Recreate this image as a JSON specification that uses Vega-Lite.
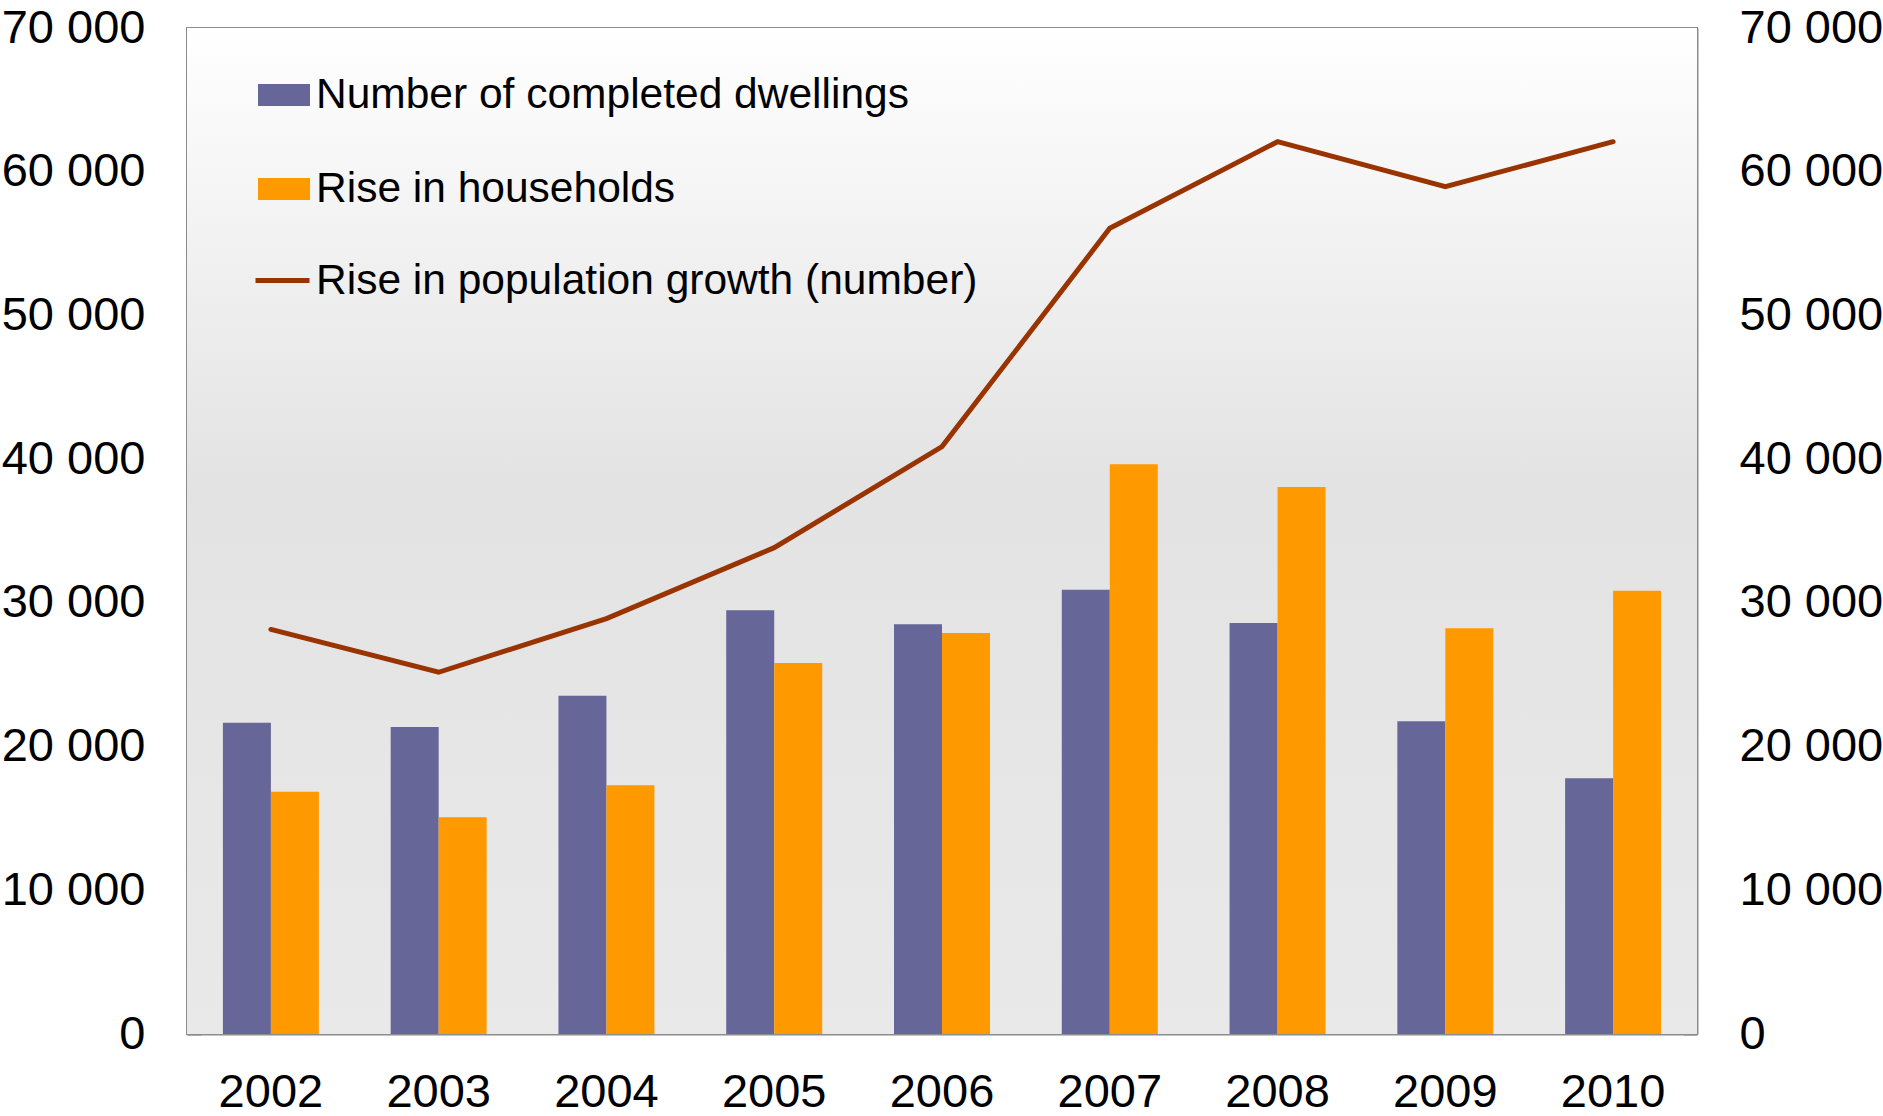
{
  "$schema": "https://vega.github.io/schema/vega-lite/v6.json",
  "width": 1510,
  "height": 1006,
  "autosize": {"type": "none"},
  "padding": {"left": 187, "top": 28, "right": 186, "bottom": 82},
  "background": "white",
  "config": {
    "font": "Liberation Sans",
    "view": {"stroke": "#8c8c8c", "strokeWidth": 2}
  },
  "datasets": {
    "bars": [
      {"year": "2002", "series": "Number of completed dwellings", "value": 21660},
      {"year": "2002", "series": "Rise in households", "value": 16860},
      {"year": "2003", "series": "Number of completed dwellings", "value": 21360},
      {"year": "2003", "series": "Rise in households", "value": 15080},
      {"year": "2004", "series": "Number of completed dwellings", "value": 23540},
      {"year": "2004", "series": "Rise in households", "value": 17300},
      {"year": "2005", "series": "Number of completed dwellings", "value": 29480},
      {"year": "2005", "series": "Rise in households", "value": 25815},
      {"year": "2006", "series": "Number of completed dwellings", "value": 28510},
      {"year": "2006", "series": "Rise in households", "value": 27900},
      {"year": "2007", "series": "Number of completed dwellings", "value": 30920},
      {"year": "2007", "series": "Rise in households", "value": 39640},
      {"year": "2008", "series": "Number of completed dwellings", "value": 28600},
      {"year": "2008", "series": "Rise in households", "value": 38060},
      {"year": "2009", "series": "Number of completed dwellings", "value": 21760},
      {"year": "2009", "series": "Rise in households", "value": 28230},
      {"year": "2010", "series": "Number of completed dwellings", "value": 17790},
      {"year": "2010", "series": "Rise in households", "value": 30850}
    ],
    "pop": [
      {"year": "2002", "series": "Rise in population growth (number)", "value": 28150},
      {"year": "2003", "series": "Rise in population growth (number)", "value": 25170},
      {"year": "2004", "series": "Rise in population growth (number)", "value": 28900},
      {"year": "2005", "series": "Rise in population growth (number)", "value": 33840},
      {"year": "2006", "series": "Rise in population growth (number)", "value": 40870},
      {"year": "2007", "series": "Rise in population growth (number)", "value": 56060},
      {"year": "2008", "series": "Rise in population growth (number)", "value": 62090},
      {"year": "2009", "series": "Rise in population growth (number)", "value": 58960},
      {"year": "2010", "series": "Rise in population growth (number)", "value": 62090}
    ]
  },
  "layer": [
    {
      "data": {"values": [{}]},
      "mark": {
        "type": "rect",
        "color": {
          "gradient": "linear",
          "x1": 0, "y1": 0, "x2": 0, "y2": 1,
          "stops": [
            {"offset": 0, "color": "#ffffff"},
            {"offset": 0.45, "color": "#e3e3e3"},
            {"offset": 1, "color": "#e9e9e9"}
          ]
        }
      },
      "encoding": {}
    },
    {
      "data": {"name": "bars"},
      "mark": {"type": "bar"},
      "encoding": {
        "x": {
          "field": "year", "type": "nominal",
          "scale": {"paddingInner": 0, "paddingOuter": 0},
          "axis": {
            "title": null, "labelAngle": 0, "bandPosition": 0,
            "tickSize": -14, "tickColor": "#8c8c8c", "tickWidth": 2,
            "domainColor": "#8c8c8c", "domainWidth": 2,
            "labelFontSize": 47, "labelColor": "black", "labelPadding": 49
          }
        },
        "xOffset": {
          "field": "series", "type": "nominal",
          "sort": ["Number of completed dwellings", "Rise in households"],
          "scale": {"paddingInner": 0, "paddingOuter": 0.748}
        },
        "y": {
          "field": "value", "type": "quantitative",
          "scale": {"domain": [0, 70000], "nice": false},
          "axis": {
            "orient": "left", "title": null, "grid": false,
            "values": [0, 10000, 20000, 30000, 40000, 50000, 60000, 70000],
            "labelExpr": "replace(format(datum.value, ','), ',', ' ')",
            "tickSize": -14, "tickColor": "#8c8c8c", "tickWidth": 2,
            "domainColor": "#8c8c8c", "domainWidth": 2,
            "labelFontSize": 47, "labelColor": "black", "labelPadding": 56
          }
        },
        "color": {
          "field": "series", "type": "nominal",
          "scale": {
            "domain": ["Number of completed dwellings", "Rise in households"],
            "range": ["#666699", "#ff9900"]
          },
          "legend": {
            "orient": "none", "legendX": 71, "legendY": 41, "title": null,
            "padding": 0,
            "symbolType": "M-1,-0.423H1V0.423H-1Z", "symbolSize": 2704,
            "symbolStrokeWidth": 0, "symbolOpacity": 1,
            "labelFontSize": 42.5, "labelColor": "black", "labelOffset": 6,
            "rowPadding": 46, "labelLimit": 1000
          }
        }
      }
    },
    {
      "data": {"name": "pop"},
      "mark": {"type": "line", "strokeWidth": 5, "strokeCap": "round", "strokeJoin": "miter"},
      "encoding": {
        "x": {
          "field": "year", "type": "nominal",
          "axis": {
            "title": null, "labelAngle": 0, "bandPosition": 0,
            "tickSize": -14, "tickColor": "#8c8c8c", "tickWidth": 2,
            "domainColor": "#8c8c8c", "domainWidth": 2,
            "labelFontSize": 47, "labelColor": "black", "labelPadding": 49
          }
        },
        "y": {
          "field": "value", "type": "quantitative",
          "axis": {
            "orient": "right", "title": null, "grid": false,
            "values": [0, 10000, 20000, 30000, 40000, 50000, 60000, 70000],
            "labelExpr": "replace(format(datum.value, ','), ',', ' ')",
            "tickSize": -14, "tickColor": "#8c8c8c", "tickWidth": 2,
            "domainColor": "#8c8c8c", "domainWidth": 2,
            "labelFontSize": 47, "labelColor": "black", "labelPadding": 56
          }
        },
        "stroke": {
          "field": "series", "type": "nominal",
          "scale": {"range": ["#993300"]},
          "legend": {
            "orient": "none", "legendX": 66, "legendY": 223, "title": null,
            "padding": 0,
            "symbolType": "stroke", "symbolSize": 2916, "symbolStrokeWidth": 5,
            "labelFontSize": 42.5, "labelColor": "black", "labelOffset": 4,
            "labelLimit": 1000
          }
        }
      }
    }
  ],
  "resolve": {"scale": {"y": "shared"}, "axis": {"y": "independent"}}
}
